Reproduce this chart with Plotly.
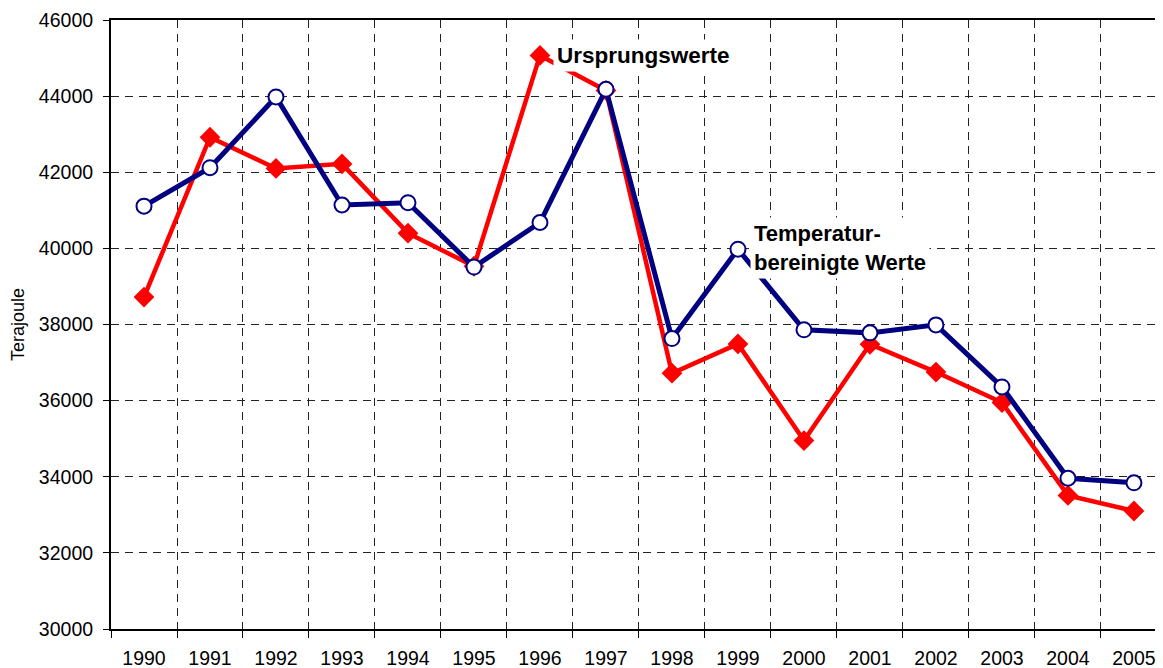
import plotly.graph_objects as go

# Jahre und Werte (Terajoule)
jahre = [str(j) for j in range(1990, 2006)]
ursprung = [38720, 42920, 42100, 42220, 40400, 39530, 45070, 44150,
            36720, 37490, 34950, 37480, 36750, 35950, 33510, 33100]
bereinigt = [41110, 42120, 43980, 41140, 41200, 39510, 40680, 44180,
             37630, 39980, 37860, 37780, 37990, 36360, 33960, 33840]

y_ticks = list(range(30000, 46001, 2000))
y_labels = [str(v) for v in y_ticks]

fig = go.Figure()

fig.add_trace(go.Scatter(
    x=jahre, y=ursprung, mode="lines+markers", name="Ursprungswerte",
    line=dict(color="#ff0000", width=4.5),
    marker=dict(symbol="diamond", size=16, color="#ff0000"),
))
fig.add_trace(go.Scatter(
    x=jahre, y=bereinigt, mode="lines+markers", name="Temperaturbereinigte Werte",
    line=dict(color="#000080", width=5),
    marker=dict(symbol="circle", size=15, color="white",
                line=dict(color="#000080", width=2)),
))

fig.add_annotation(
    x=6.2, y=45080, xref="x", yref="y", text="<b>Ursprungswerte</b>",
    showarrow=False, xanchor="left", yanchor="middle",
    font=dict(family="Liberation Sans, Arial", size=22.5, color="black"),
    bgcolor="white", borderpad=3,
)
fig.add_annotation(
    x=9.18, y=40000, xref="x", yref="y",
    text="<b>Temperatur-<br>bereinigte Werte</b>",
    showarrow=False, xanchor="left", yanchor="middle", align="left",
    font=dict(family="Liberation Sans, Arial", size=22, color="black"),
    bgcolor="white", borderpad=3,
)

# die Seite hat 8px Rand, daher etwas kleiner
fig.update_layout(
    width=1155, height=660,
    margin=dict(l=103, r=0, t=12, b=39),
    plot_bgcolor="white", paper_bgcolor="white",
    showlegend=False,
    font=dict(family="Liberation Sans, Arial", size=19.5, color="black"),
)
fig.update_xaxes(
    type="category", range=[-0.5, 15.44], automargin=False,
    tickson="boundaries", ticks="outside", ticklen=7, tickcolor="black",
    showline=True, linecolor="black", linewidth=2, mirror=True,
    showgrid=True, gridcolor="#222222", gridwidth=1, griddash="8px,6px",
    ticklabelstandoff=11,
)
fig.update_yaxes(
    range=[30000, 46000], tickvals=y_ticks, ticktext=y_labels, automargin=False,
    ticks="outside", ticklen=6, tickcolor="black",
    showline=True, linecolor="black", linewidth=2,
    showgrid=True, gridcolor="#222222", gridwidth=1, griddash="8px,6px",
    zeroline=False, ticklabelstandoff=6,
    title=dict(text="Terajoule", font=dict(size=18), standoff=22),
)

fig.write_html("out.html")
